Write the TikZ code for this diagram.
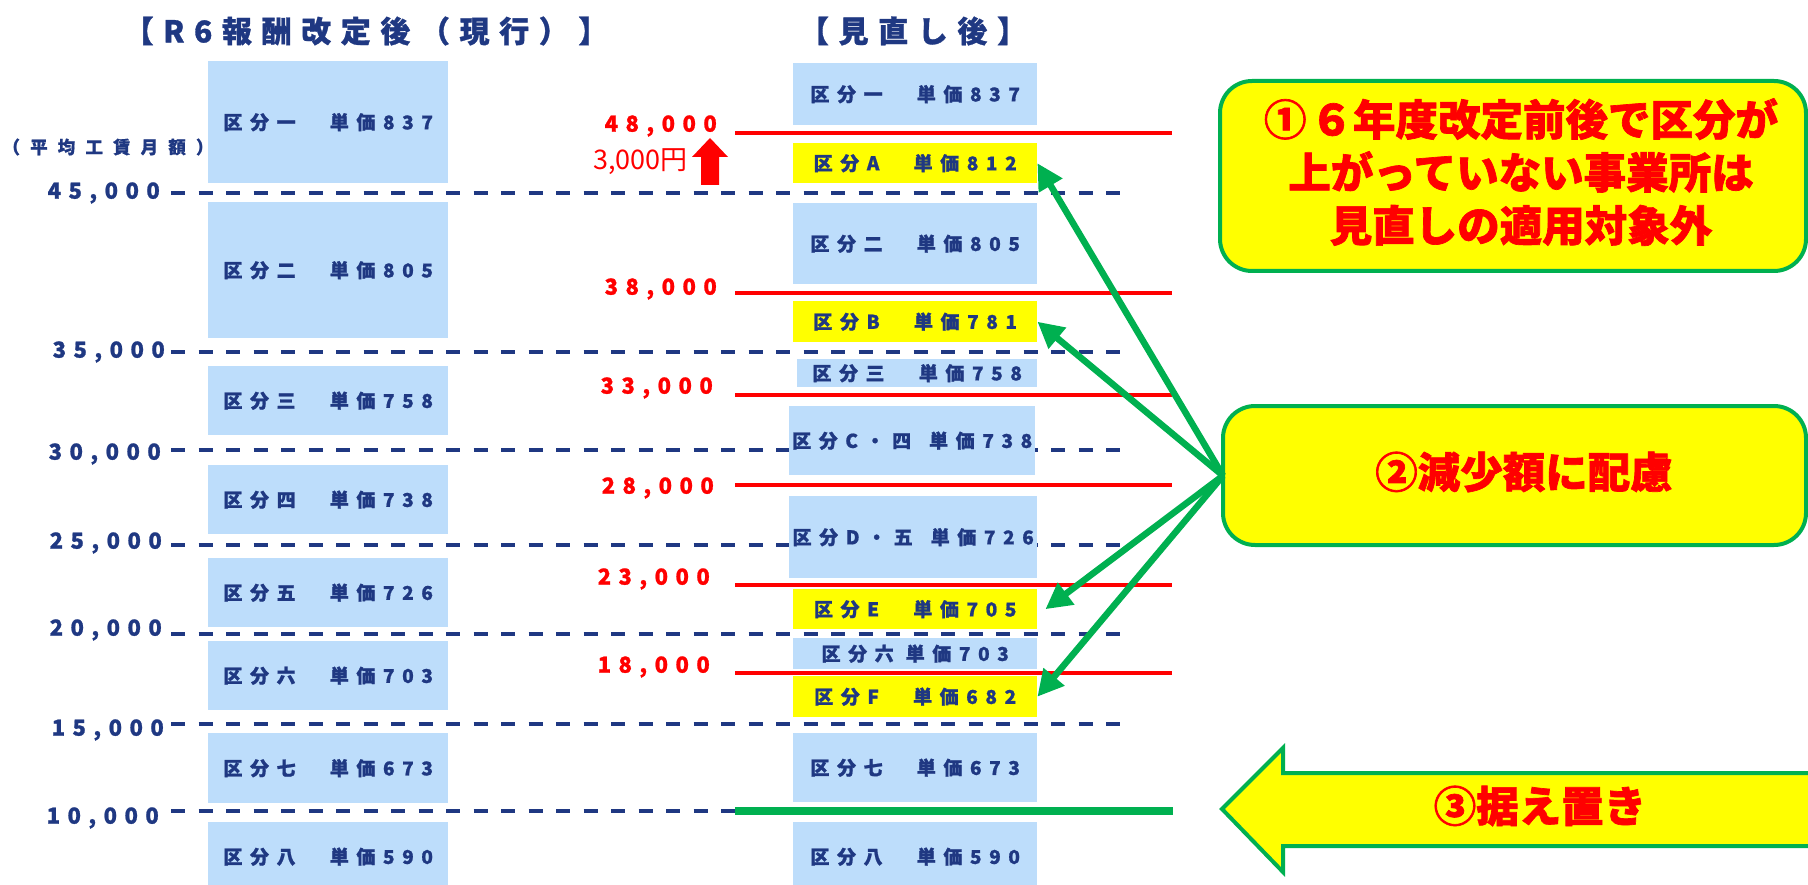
\documentclass[tikz,border=0pt]{standalone}
\usepackage{fontspec}
\setmainfont{Noto Sans CJK JP}
\newfontfamily\jp{Noto Sans CJK JP}
\newfontfamily\jpbig{Noto Sans CJK JP}[FakeBold=1.6]
\newfontfamily\jpk{Noto Sans CJK JP}[LetterSpace=40, FakeBold=1.0]
\newfontfamily\jpa{Noto Sans CJK JP}[LetterSpace=34, FakeBold=1.0]
\newfontfamily\jpu{Noto Sans CJK JP}[LetterSpace=58, FakeBold=0.8]
\newfontfamily\jptitle{Noto Sans CJK JP}[LetterSpace=32, FakeBold=1.0]
\usetikzlibrary{arrows.meta}
\definecolor{navy}{RGB}{31,56,130}
\definecolor{lblue}{RGB}{189,221,251}
\definecolor{gr}{RGB}{0,176,80}
\definecolor{rd}{RGB}{255,0,0}
\definecolor{yel}{RGB}{255,255,0}
\begin{document}
\begin{tikzpicture}[x=1pt,y=-1pt,
  bx/.style={fill=lblue, inner sep=0pt, text=navy, anchor=north west,
    font=\jpk\bfseries\fontsize{19}{19}\selectfont},
  ybx/.style={bx, fill=yel},
  axlab/.style={text=navy, anchor=east, inner sep=0pt,
    font=\jpa\bfseries\fontsize{22}{22}\selectfont},
  redlab/.style={axlab, text=rd},
  grid/.style={draw=navy, line width=4pt, dash pattern=on 14pt off 13.5pt},
  redline/.style={draw=rd, line width=4pt},
  garrow/.style={draw=gr, line width=6.5pt, -{Triangle[length=26pt,width=26pt]}},
  ttl/.style={text=navy, font=\jptitle\bfseries\fontsize{30}{30}\selectfont},
  callout/.style={draw=gr, line width=4pt, fill=yel, rounded corners=32pt},
  bigred/.style={text=rd, align=center, font=\jpbig\bfseries\fontsize{42.5}{53}\selectfont}
]
\useasboundingbox (0,0) rectangle (1808,885);

% titles
\node[ttl] (t1) at (366,31) {【R6報酬改定後（現行）】};
\node[ttl] (t2) at (913,31) {【見直し後】};
\node[text=navy, inner sep=0pt, font=\jpu\bfseries\fontsize{17.5}{17.5}\selectfont] (unit) at (108,147) {（平均工賃月額）};

% grid lines
\foreach \yy in {193,352,450,545,634,724,811}{
  \draw[grid] (171,\yy) -- (1131,\yy);
}
\node[axlab] (a45) at (160,193) {45,000};
\node[axlab] (a35) at (165,352) {35,000};
\node[axlab] (a30) at (161,454) {30,000};
\node[axlab] (a25) at (162,543) {25,000};
\node[axlab] (a20) at (162,630) {20,000};
\node[axlab] (a15) at (164,730) {15,000};
\node[axlab] (a10) at (159,818) {10,000};

% left boxes
\node[bx, minimum width=240, minimum height=122] (L1) at (208,61) {区分一　単価837};
\node[bx, minimum width=240, minimum height=136] (L2) at (208,202) {区分二　単価805};
\node[bx, minimum width=240, minimum height=69] (L3) at (208,366) {区分三　単価758};
\node[bx, minimum width=240, minimum height=69] (L4) at (208,465) {区分四　単価738};
\node[bx, minimum width=240, minimum height=69] (L5) at (208,558) {区分五　単価726};
\node[bx, minimum width=240, minimum height=69] (L6) at (208,641) {区分六　単価703};
\node[bx, minimum width=240, minimum height=70] (L7) at (208,733) {区分七　単価673};
\node[bx, minimum width=240, minimum height=69] (L8) at (208,822) {区分八　単価590};

% right boxes
\node[bx, minimum width=244, minimum height=62] (R1) at (793,63) {区分一　単価837};
\node[ybx, minimum width=244, minimum height=40] (RA) at (793,143) {区分A　単価812};
\node[bx, minimum width=244, minimum height=81] (R2) at (793,203) {区分二　単価805};
\node[ybx, minimum width=244, minimum height=41] (RB) at (793,301) {区分B　単価781};
\node[bx, minimum width=240, minimum height=28] (R3) at (797,359) {区分三　単価758};
\node[bx, minimum width=246, minimum height=69] (RC) at (789,406) {区分C・四 \hspace{6pt}単価738};
\node[bx, minimum width=248, minimum height=82] (RD) at (789,496) {区分D・五 \hspace{6pt}単価726};
\node[ybx, minimum width=244, minimum height=40] (RE) at (793,589) {区分E　単価705};
\node[bx, minimum width=244, minimum height=31] (R6) at (793,638) {区分六 単価703};
\node[ybx, minimum width=244, minimum height=41] (RF) at (793,676) {区分F　単価682};
\node[bx, minimum width=244, minimum height=69] (R7) at (793,733) {区分七　単価673};
\node[bx, minimum width=244, minimum height=69] (R8) at (793,822) {区分八　単価590};

% red threshold lines
\foreach \yy in {133,293,395,485,585,673}{
  \draw[redline] (735,\yy) -- (1172,\yy);
}
\node[redlab] (r48) at (717,126) {48,000};
\node[redlab] (r38) at (717,289) {38,000};
\node[redlab] (r33) at (713,388) {33,000};
\node[redlab] (r28) at (714,488) {28,000};
\node[redlab] (r23) at (710,579) {23,000};
\node[redlab] (r18) at (710,667) {18,000};

% 3,000 yen note with up arrow
\node[text=rd, inner sep=0pt, anchor=east, font=\jp\fontsize{27}{27}\selectfont] (up) at (688,162) {3,000円};
\fill[rd] (701,185) -- (701,157) -- (692,157) -- (710,138) -- (728,157) -- (719,157) -- (719,185) -- cycle;

% green held line
\draw[draw=gr, line width=8pt] (735,811) -- (1173,811);

% callouts
\draw[callout] (1220,81) rectangle (1806,271);
\node[bigred] (c1) at (1521,172) {①\kern4pt６年度改定前後で区分が\\上がっていない事業所は\\見直しの適用対象外};
\draw[callout] (1223,406) rectangle (1806,545);
\node[inner sep=0pt, minimum width=583, minimum height=139, anchor=north west] (c2) at (1223,406) {};
\node[bigred] (c2t) at (1524,472) {②減少額に配慮};
\draw[draw=gr, line width=4pt, fill=yel, line join=miter]
  (1222,809) -- (1283,748) -- (1283,773) -- (1815,773) -- (1815,846) -- (1283,846) -- (1283,872) -- cycle;
\node[bigred] (c3) at (1540,806) {③据え置き};

% arrows
\draw[garrow] (c2.west) -- (RA.east);
\draw[garrow] (c2.west) -- (RB.east);
\draw[garrow] (c2.west) -- ([xshift=8pt]RE.east);
\draw[garrow] (c2.west) -- (RF.east);
\end{tikzpicture}
\end{document}
